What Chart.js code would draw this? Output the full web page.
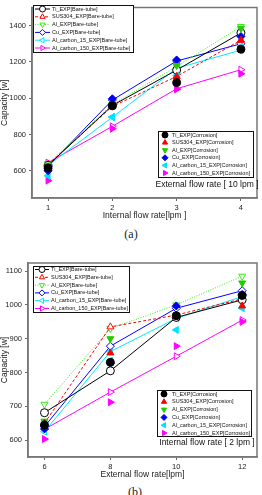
<!DOCTYPE html>
<html>
<head>
<meta charset="utf-8">
<script src="https://cdn.jsdelivr.net/npm/chart.js@4.4.0/dist/chart.umd.min.js"></script>
<style>
    body { margin: 0; background: #fff; width: 262px; height: 495px; overflow: hidden; position: relative; font-family: "Liberation Sans", Arial, sans-serif; }
    .wrap { position: absolute; left: 0; width: 262px; }
    #wrapA { top: 0; height: 221px; }
    #wrapB { top: 250px; height: 230px; }
    .cap { position: absolute; width: 262px; text-align: center; font-family: "Liberation Serif", "DejaVu Serif", serif; font-size: 12px; color: #222; }
</style>
</head>
<body>
<div class="wrap" id="wrapA"><canvas id="chartA"></canvas></div>
<div class="cap" style="top:227px;left:0">(a)</div>
<div class="wrap" id="wrapB"><canvas id="chartB"></canvas></div>
<div class="cap" style="top:485px;left:4px">(b)</div>
<script>
const materials = ['Ti', 'SUS304', 'Al', 'Cu', 'Al_carbon_15', 'Al_carbon_150'];

// chart (a): internal flow rate, external fixed at 10 lpm
const internalFlow = [1, 2, 3, 4];
const yTicksA = [600, 800, 1000, 1200, 1400];
const bareA = [
    [630, 960, 1155, 1360],
    [635, 955, 1120, 1320],
    [640, 965, 1175, 1395],
    [625, 990, 1205, 1300],
    [630, 895, 1165, 1265],
    [645, 845, 1052, 1157]
];
const corrosionA = [
    [615, 958, 1086, 1270],
    [620, 960, 1120, 1320],
    [632, 962, 1180, 1385],
    [600, 997, 1211, 1340],
    [573, 897, 1125, 1286],
    [546, 832, 1049, 1135]
];

// chart (b): external flow rate, internal fixed at 2 lpm
const externalFlow = [6, 8, 10, 12];
const yTicksB = [600, 700, 800, 900, 1000, 1100];
const bareB = [
    [681, 805, 963, 1015],
    [650, 935, 970, 1018],
    [706, 930, 1000, 1085],
    [640, 878, 990, 1042],
    [625, 862, 960, 1025],
    [632, 742, 848, 955]
];
const corrosionB = [
    [645, 830, 968, 1028],
    [650, 858, 968, 997],
    [656, 900, 968, 1065],
    [633, 828, 997, 1031],
    [645, 835, 926, 990],
    [603, 712, 878, 950]
];

const colors = ['#000000', '#ff0000', '#33ee11', '#0000ff', '#00e8ff', '#ff00ff'];
const fills = ['#000000', '#ff0000', '#22cc00', '#0000ee', '#00e0ff', '#ff00ff'];
const dashes = [[], [3, 2], [1, 1.5], [], [], []];
const shapes = ['circle', 'triangle', 'triangle', 'rectRot', 'triangle', 'triangle'];
const rotations = [0, 0, 180, 0, 270, 90];

function makeDatasets(bare, corr, xs) {
    const sets = [];
    materials.forEach((m, i) => {
        sets.push({
            label: m + '_EXP[Bare-tube]',
            data: xs.map((x, k) => ({ x: x, y: bare[i][k] })),
            borderColor: colors[i],
            borderWidth: 1,
            borderDash: dashes[i],
            pointStyle: shapes[i],
            rotation: rotations[i],
            pointRadius: 4,
            pointBorderWidth: 1,
            pointBorderColor: colors[i],
            pointBackgroundColor: '#ffffff',
            tension: 0,
            order: 1
        });
    });
    materials.forEach((m, i) => {
        sets.push({
            label: m + '_EXP[Corrosion]',
            data: xs.map((x, k) => ({ x: x, y: corr[i][k] })),
            showLine: false,
            pointStyle: shapes[i],
            rotation: rotations[i],
            pointRadius: 4,
            pointBorderWidth: 1,
            pointBorderColor: fills[i],
            pointBackgroundColor: fills[i],
            order: 0
        });
    });
    return sets;
}

function drawLegend(ctx, L, suffix, withLine) {
    ctx.save();
    ctx.fillStyle = '#ffffff';
    ctx.fillRect(L.x, L.y, L.w, L.h);
    ctx.strokeStyle = '#111';
    ctx.lineWidth = 1;
    ctx.strokeRect(L.x + 0.5, L.y + 0.5, L.w, L.h);
    ctx.font = '5.5px "Liberation Sans", Arial, sans-serif';
    ctx.textBaseline = 'middle';
    materials.forEach((m, i) => {
        const y = L.row0 + i * L.dy;
        if (withLine) {
            ctx.strokeStyle = colors[i];
            ctx.setLineDash(dashes[i]);
            ctx.beginPath();
            ctx.moveTo(L.lx0, y);
            ctx.lineTo(L.lx1, y);
            ctx.stroke();
            ctx.setLineDash([]);
            ctx.fillStyle = '#ffffff';
            ctx.strokeStyle = colors[i];
        } else {
            ctx.fillStyle = fills[i];
            ctx.strokeStyle = fills[i];
        }
        ctx.lineWidth = 1;
        Chart.helpers.drawPoint(ctx, { pointStyle: shapes[i], rotation: rotations[i], radius: 3, borderWidth: 1 }, L.mx, y);
        ctx.fillStyle = '#111';
        ctx.fillText(m + suffix, L.tx, y, L.x + L.w - L.tx - 1);
    });
    ctx.restore();
}

function framePlugin(legBare, legCorr, note) {
    return {
        id: 'frameLegends',
        afterDraw(chart) {
            const ctx = chart.ctx;
            const a = chart.chartArea;
            ctx.save();
            ctx.strokeStyle = '#777';
            ctx.lineWidth = 1.5;
            ctx.strokeRect(a.left, a.top, a.right - a.left, a.bottom - a.top);
            ctx.restore();
            drawLegend(ctx, legBare, '_EXP[Bare-tube]', true);
            drawLegend(ctx, legCorr, '_EXP[Corrosion]', false);
            ctx.save();
            ctx.font = '8.5px "Liberation Sans", Arial, sans-serif';
            ctx.fillStyle = '#111';
            ctx.textAlign = 'center';
            ctx.textBaseline = 'middle';
            ctx.fillText(note.text, note.x, note.y);
            ctx.restore();
        }
    };
}

function makeChart(id, cfg) {
    const tickFont = { family: '"Liberation Sans", Arial, sans-serif', size: 7.5 };
    const titleFont = { family: '"Liberation Sans", Arial, sans-serif', size: 8.5 };
    const grid = { display: true, drawOnChartArea: false, drawTicks: true, tickLength: 3, color: '#666' };
    const border = { display: true, color: '#777', width: 1.5 };
    return new Chart(document.getElementById(id), {
        type: 'line',
        data: { datasets: makeDatasets(cfg.bare, cfg.corr, cfg.xs) },
        options: {
            responsive: true,
            maintainAspectRatio: false,
            animation: false,
            layout: { padding: cfg.padding },
            plugins: { legend: { display: false }, tooltip: { enabled: false } },
            scales: {
                x: {
                    type: 'linear',
                    min: cfg.xMin,
                    max: cfg.xMax,
                    afterBuildTicks: s => { s.ticks = cfg.xs.map(v => ({ value: v })); },
                    afterFit: s => { s.height = 23; },
                    ticks: { font: tickFont, color: '#222', padding: 2, callback: v => String(v) },
                    grid: grid,
                    border: border,
                    title: { display: true, text: cfg.xTitle, font: titleFont, color: '#222', padding: 0 }
                },
                y: {
                    min: cfg.yMin,
                    max: cfg.yMax,
                    afterBuildTicks: s => { s.ticks = cfg.yTicks.map(v => ({ value: v })); },
                    afterFit: s => { s.width = cfg.yWidth; },
                    ticks: { font: tickFont, color: '#222', padding: 3, callback: v => String(v) },
                    grid: grid,
                    border: border,
                    title: { display: true, text: 'Capacity [w]', font: titleFont, color: '#222', padding: 0 }
                }
            }
        },
        plugins: [framePlugin(cfg.legBare, cfg.legCorr, cfg.note)]
    });
}

makeChart('chartA', {
    bare: bareA, corr: corrosionA, xs: internalFlow, yTicks: yTicksA,
    xMin: 0.75, xMax: 4.25, yMin: 450, yMax: 1500,
    xTitle: 'Internal flow rate[lpm ]',
    yWidth: 32,
    padding: { top: 4, right: 2, left: 0, bottom: 0 },
    legBare: { x: 33, y: 5, w: 100, h: 47, row0: 9, dy: 7.8, lx0: 35, lx1: 50, mx: 42.5, tx: 52 },
    legCorr: { x: 158, y: 131, w: 95, h: 46, row0: 135, dy: 7.6, mx: 165, tx: 172 },
    note: { text: 'External flow rate [ 10 lpm ]', x: 207, y: 185 }
});

makeChart('chartB', {
    bare: bareB, corr: corrosionB, xs: externalFlow, yTicks: yTicksB,
    xMin: 5.5, xMax: 12.45, yMin: 550, yMax: 1124,
    xTitle: 'External flow rate[lpm]',
    yWidth: 28,
    padding: { top: 13, right: 5, left: 0, bottom: 0 },
    legBare: { x: 33, y: 16, w: 96, h: 46, row0: 19.5, dy: 7.8, lx0: 35, lx1: 49, mx: 42, tx: 51 },
    legCorr: { x: 157, y: 140, w: 94, h: 46, row0: 144, dy: 7.8, mx: 164, tx: 172 },
    note: { text: 'Internal flow rate [ 2 lpm ]', x: 207, y: 193 }
});
</script>
</body>
</html>
